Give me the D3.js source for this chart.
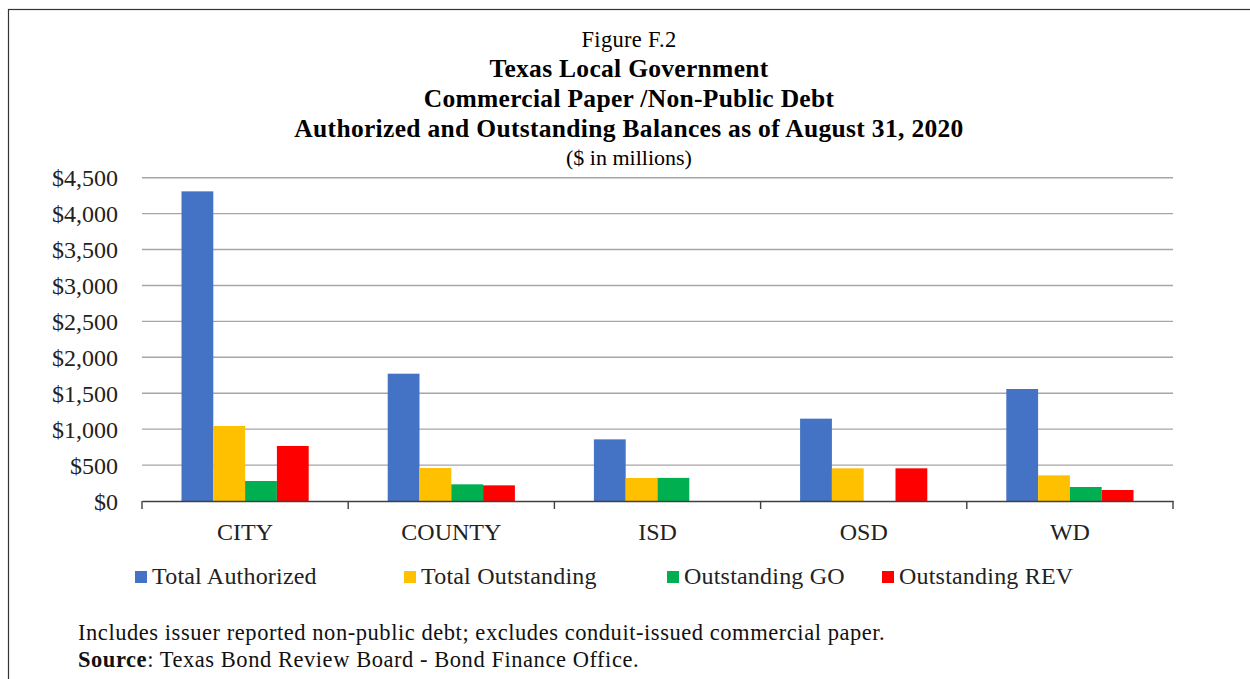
<!DOCTYPE html>
<html>
<head>
<meta charset="utf-8">
<script src="https://cdn.jsdelivr.net/npm/d3@7"></script>
<style>
  html, body { margin: 0; padding: 0; background: #fff; }
  svg { display: block; font-family: "Liberation Serif", "DejaVu Serif", serif; }
</style>
</head>
<body>
<svg id="chart" width="1250" height="679"></svg>
<script>
// Issuer categories and series ($ in millions)
const categories = ["CITY", "COUNTY", "ISD", "OSD", "WD"];
const seriesNames = ["Total Authorized", "Total Outstanding", "Outstanding GO", "Outstanding REV"];
const totalAuthorized = [4310, 1772, 858, 1146, 1559];
const totalOutstanding = [1044, 459, 320, 455, 357];
const outstandingGO = [278, 232, 322, 0, 195];
const outstandingREV = [766, 218, 0, 455, 153];
const seriesColors = ["#4472C4", "#FFC000", "#00B050", "#FF0000"];
const yTicks = [0, 500, 1000, 1500, 2000, 2500, 3000, 3500, 4000, 4500];

const seriesValues = [totalAuthorized, totalOutstanding, outstandingGO, outstandingREV];
const rows = categories.map((c, i) => ({
  category: c,
  values: seriesNames.map((s, j) => ({ series: s, value: seriesValues[j][i], color: seriesColors[j] }))
}));

const svg = d3.select("#chart");

// Outer frame
svg.append("rect")
  .attr("x", 8.5).attr("y", 9.5)
  .attr("width", 1260).attr("height", 700)
  .attr("fill", "none").attr("stroke", "#333").attr("stroke-width", 1.2);

// Titles
const titles = [
  { text: "Figure F.2", y: 47, size: 22.5, weight: "normal", ls: 0.3 },
  { text: "Texas Local Government", y: 77, size: 25.5, weight: "bold", ls: 0.3 },
  { text: "Commercial Paper /Non-Public Debt", y: 107, size: 25.5, weight: "bold", ls: 0.3 },
  { text: "Authorized and Outstanding Balances as of August 31, 2020", y: 137, size: 25.5, weight: "bold", ls: 0.32 },
  { text: "($ in millions)", y: 165, size: 22, weight: "normal", ls: 0 }
];
svg.selectAll("text.title").data(titles).join("text")
  .attr("class", "title")
  .attr("x", 629).attr("y", d => d.y)
  .attr("text-anchor", "middle")
  .attr("font-size", d => d.size)
  .attr("font-weight", d => d.weight)
  .attr("letter-spacing", d => d.ls)
  .attr("fill", "#000")
  .text(d => d.text);

// Plot area
const plot = { left: 142, right: 1173, top: 177.7, bottom: 501 };

const x0 = d3.scaleBand().domain(categories).range([plot.left, plot.right]).padding(0);
const groupInset = 39.5;
const x1 = d3.scaleBand().domain(seriesNames)
  .range([groupInset, x0.bandwidth() - groupInset]).padding(0);
const y = d3.scaleLinear().domain([0, 4500]).range([plot.bottom, plot.top]);

// Gridlines
svg.append("g")
  .selectAll("line").data(yTicks.filter(t => t > 0)).join("line")
  .attr("x1", plot.left).attr("x2", plot.right)
  .attr("y1", d => y(d)).attr("y2", d => y(d))
  .attr("stroke", "#a6a6a6").attr("stroke-width", 1.4);

// Y axis labels
const yAxis = d3.axisLeft(y).tickValues(yTicks)
  .tickFormat(d => "$" + d3.format(",")(d)).tickSize(0).tickPadding(0);
const yG = svg.append("g").attr("transform", `translate(118,0)`).call(yAxis);
yG.select(".domain").remove();
yG.selectAll("text")
  .attr("font-family", "Liberation Serif, serif")
  .attr("font-size", 24).attr("fill", "#222").attr("dy", "0.34em");

// Bars
const groups = svg.append("g").selectAll("g").data(rows).join("g")
  .attr("transform", d => `translate(${x0(d.category)},0)`);
groups.selectAll("rect").data(d => d.values.filter(v => v.value > 0)).join("rect")
  .attr("x", d => x1(d.series))
  .attr("width", x1.bandwidth())
  .attr("y", d => y(d.value))
  .attr("height", d => y(0) - y(d.value))
  .attr("fill", d => d.color);

// X axis
const xAxis = d3.axisBottom(x0).tickSize(0).tickPadding(0);
const xG = svg.append("g").attr("transform", `translate(0,${plot.bottom})`).call(xAxis);
xG.select(".domain").attr("stroke", "#404040").attr("stroke-width", 1.4);
xG.selectAll("text")
  .attr("font-family", "Liberation Serif, serif")
  .attr("font-size", 24).attr("fill", "#222")
  .attr("dy", 0).attr("y", 39);
// Category separator ticks
const boundaries = categories.map(c => x0(c)).concat([plot.right]);
xG.selectAll("line.sep").data(boundaries).join("line")
  .attr("class", "sep")
  .attr("x1", d => d).attr("x2", d => d)
  .attr("y1", 0).attr("y2", 8)
  .attr("stroke", "#404040").attr("stroke-width", 1.4);

// Legend
const legendX = [135, 404, 667, 882];
const legend = svg.append("g").selectAll("g").data(seriesNames).join("g")
  .attr("transform", (d, i) => `translate(${legendX[i]},571)`);
legend.append("rect").attr("width", 12).attr("height", 12)
  .attr("fill", (d, i) => seriesColors[i]);
legend.append("text").attr("x", 17).attr("y", 13)
  .attr("font-size", 24).attr("letter-spacing", 0.2).attr("fill", "#222").text(d => d);

// Footnotes
const notes = svg.append("g").attr("font-size", 22.5).attr("fill", "#111").attr("letter-spacing", 0.55);
notes.append("text").attr("x", 78).attr("y", 640)
  .text("Includes issuer reported non-public debt; excludes conduit-issued commercial paper.");
const src = notes.append("text").attr("x", 78).attr("y", 667);
src.append("tspan").attr("font-weight", "bold").text("Source");
src.append("tspan").text(": Texas Bond Review Board - Bond Finance Office.");
</script>
</body>
</html>
